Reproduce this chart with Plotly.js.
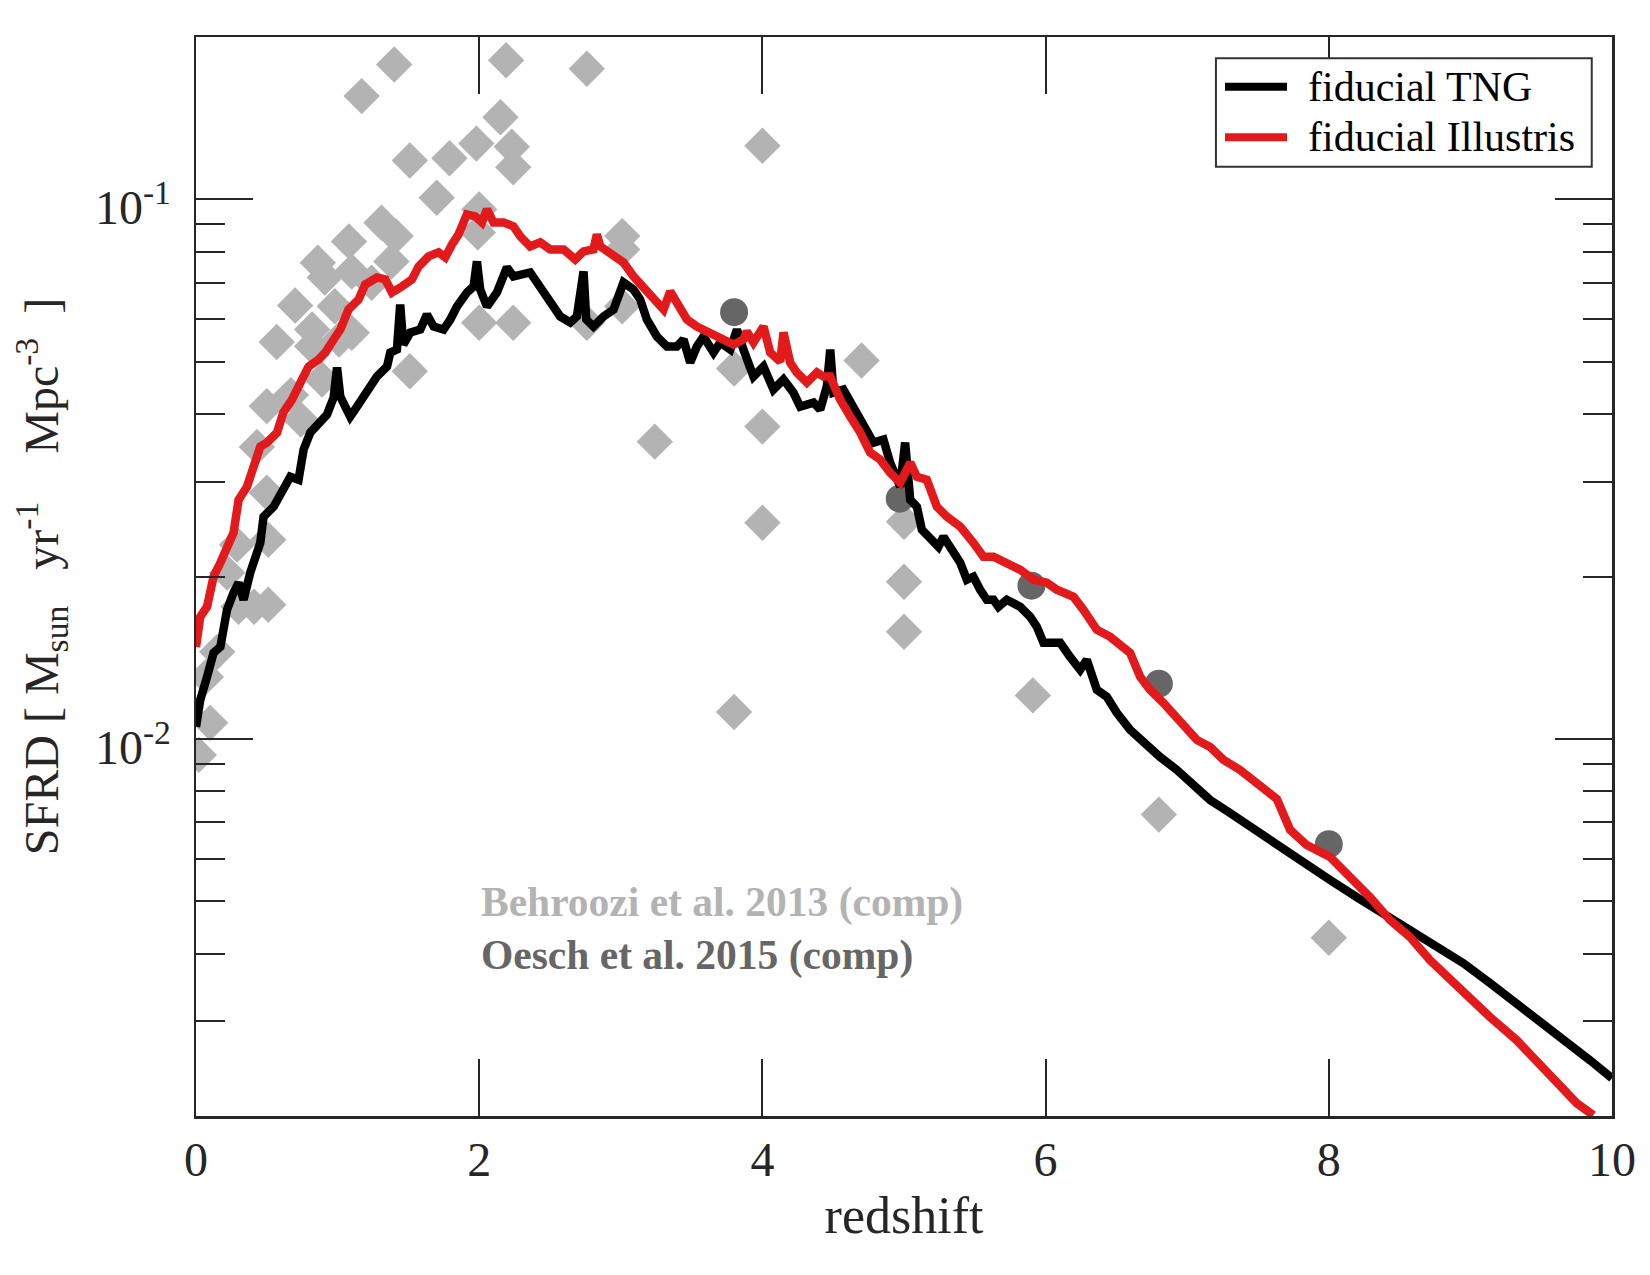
<!DOCTYPE html>
<html>
<head>
<meta charset="utf-8">
<script src="https://cdn.plot.ly/plotly-3.0.1.min.js"></script>
<style>
  html, body { margin: 0; padding: 0; background: #ffffff; }
  #chart { width: 1650px; height: 1275px; }
</style>
</head>
<body>
<div id="chart"></div>
<script>
// Cosmic star formation rate density versus redshift

// fiducial TNG run
const tngZ = [0.00, 0.03, 0.078, 0.124, 0.172, 0.219, 0.265, 0.301, 0.336, 0.383, 0.454, 0.477, 0.548, 0.619, 0.666, 0.724, 0.760, 0.807, 0.878, 0.925, 0.972, 0.996, 1.019, 1.089, 1.137, 1.207, 1.278, 1.349, 1.372, 1.419, 1.442, 1.464, 1.513, 1.584, 1.631, 1.678, 1.748, 1.796, 1.843, 1.913, 1.960, 1.984, 2.007, 2.055, 2.125, 2.196, 2.242, 2.360, 2.431, 2.502, 2.572, 2.643, 2.690, 2.737, 2.756, 2.807, 2.878, 2.949, 3.019, 3.090, 3.137, 3.184, 3.255, 3.326, 3.396, 3.443, 3.490, 3.537, 3.584, 3.655, 3.702, 3.773, 3.820, 3.866, 3.937, 4.008, 4.078, 4.149, 4.219, 4.267, 4.361, 4.408, 4.455, 4.479, 4.502, 4.572, 4.643, 4.714, 4.784, 4.855, 4.902, 4.973, 5.008, 5.044, 5.091, 5.126, 5.185, 5.243, 5.279, 5.326, 5.397, 5.444, 5.490, 5.538, 5.585, 5.632, 5.667, 5.726, 5.820, 5.891, 5.938, 5.985, 6.032, 6.103, 6.173, 6.244, 6.291, 6.362, 6.432, 6.503, 6.597, 6.691, 6.808, 6.927, 7.044, 7.162, 7.303, 7.445, 7.633, 7.820, 8.009, 8.197, 8.385, 8.573, 8.762, 8.950, 9.139, 9.327, 9.515, 9.703, 9.845, 10.0];
const tngSfrd = [0.01053, 0.01181, 0.01303, 0.01444, 0.01481, 0.01735, 0.01866, 0.01948, 0.01811, 0.02033, 0.02310, 0.02581, 0.02694, 0.02897, 0.03062, 0.03023, 0.03438, 0.03696, 0.03857, 0.03991, 0.04292, 0.04880, 0.04311, 0.03957, 0.04130, 0.04385, 0.04696, 0.04900, 0.05202, 0.05269, 0.06385, 0.05383, 0.05666, 0.05739, 0.06119, 0.05813, 0.05739, 0.05990, 0.06331, 0.06721, 0.06895, 0.07674, 0.06807, 0.06331, 0.06721, 0.07480, 0.07197, 0.07321, 0.06895, 0.06523, 0.06067, 0.05914, 0.06067, 0.07352, 0.05990, 0.05813, 0.06067, 0.06250, 0.07014, 0.06807, 0.06523, 0.05990, 0.05570, 0.05337, 0.05337, 0.05499, 0.04985, 0.05337, 0.05570, 0.05202, 0.05429, 0.05269, 0.05739, 0.05269, 0.04696, 0.04900, 0.04441, 0.04636, 0.04385, 0.04130, 0.04201, 0.04077, 0.04499, 0.05269, 0.04385, 0.04441, 0.04130, 0.03792, 0.03542, 0.03588, 0.03251, 0.02934, 0.03542, 0.02776, 0.02694, 0.02442, 0.02340, 0.02271, 0.02370, 0.02271, 0.02121, 0.01973, 0.01998, 0.01890, 0.01811, 0.01811, 0.01758, 0.01811, 0.01758, 0.01684, 0.01614, 0.01507, 0.01507, 0.01507, 0.01419, 0.01343, 0.01401, 0.01233, 0.01197, 0.01118, 0.01039, 0.009830, 0.009260, 0.008760, 0.008251, 0.007704, 0.007288, 0.006866, 0.006411, 0.005888, 0.005474, 0.005090, 0.004755, 0.004420, 0.004113, 0.003840, 0.003526, 0.003238, 0.002972, 0.002729, 0.002537, 0.002350];

// fiducial Illustris run
const illZ = [0.00, 0.03, 0.078, 0.124, 0.172, 0.228, 0.265, 0.301, 0.360, 0.407, 0.454, 0.501, 0.572, 0.616, 0.678, 0.748, 0.795, 0.866, 0.913, 0.972, 1.019, 1.077, 1.148, 1.195, 1.278, 1.337, 1.384, 1.454, 1.525, 1.572, 1.642, 1.713, 1.760, 1.808, 1.854, 1.913, 1.972, 2.019, 2.055, 2.101, 2.172, 2.242, 2.290, 2.360, 2.431, 2.502, 2.596, 2.678, 2.737, 2.807, 2.831, 2.855, 2.949, 3.019, 3.090, 3.160, 3.231, 3.302, 3.349, 3.396, 3.467, 3.537, 3.608, 3.702, 3.796, 3.866, 3.890, 3.937, 4.008, 4.055, 4.126, 4.149, 4.196, 4.243, 4.314, 4.385, 4.431, 4.479, 4.549, 4.620, 4.691, 4.761, 4.832, 4.902, 4.973, 5.044, 5.091, 5.161, 5.232, 5.303, 5.397, 5.490, 5.561, 5.632, 5.726, 5.820, 5.914, 6.009, 6.079, 6.197, 6.267, 6.362, 6.456, 6.550, 6.597, 6.668, 6.738, 6.832, 6.950, 7.068, 7.162, 7.256, 7.373, 7.514, 7.633, 7.727, 7.844, 8.009, 8.150, 8.291, 8.432, 8.573, 8.714, 8.856, 8.997, 9.139, 9.327, 9.468, 9.610, 9.751, 9.868];
const illSfrd = [0.01481, 0.01684, 0.01758, 0.01998, 0.02121, 0.02291, 0.02411, 0.02776, 0.02934, 0.03196, 0.03482, 0.03542, 0.03696, 0.04025, 0.04255, 0.04636, 0.04900, 0.05049, 0.05202, 0.05499, 0.05739, 0.06250, 0.06523, 0.06954, 0.07166, 0.07105, 0.06721, 0.06895, 0.07105, 0.07512, 0.07840, 0.07975, 0.07807, 0.08252, 0.08613, 0.09379, 0.09300, 0.09065, 0.09582, 0.09065, 0.09065, 0.08911, 0.08540, 0.08182, 0.08323, 0.08078, 0.08078, 0.07740, 0.08009, 0.08078, 0.08613, 0.08182, 0.07840, 0.07642, 0.07197, 0.06895, 0.06523, 0.06250, 0.06749, 0.06440, 0.05990, 0.05813, 0.05690, 0.05570, 0.05383, 0.05499, 0.05690, 0.05429, 0.05813, 0.05202, 0.05006, 0.05666, 0.04985, 0.04777, 0.04577, 0.04777, 0.04696, 0.04696, 0.04255, 0.03957, 0.03696, 0.03394, 0.03294, 0.03115, 0.02985, 0.03251, 0.03062, 0.03023, 0.02694, 0.02581, 0.02474, 0.02310, 0.02176, 0.02176, 0.02121, 0.02059, 0.01973, 0.01948, 0.01890, 0.01834, 0.01735, 0.01593, 0.01546, 0.01481, 0.01444, 0.01303, 0.01233, 0.01166, 0.01071, 0.009957, 0.009664, 0.009143, 0.008760, 0.008146, 0.007737, 0.006779, 0.006357, 0.006039, 0.005546, 0.005090, 0.004615, 0.004292, 0.003890, 0.003571, 0.003280, 0.003049, 0.002764, 0.002537, 0.002300, 0.002112, 0.002006];

// Behroozi et al. 2013 compilation
const behrooziZ = [0.02, 0.10, 0.07, 0.15, 0.22, 0.30, 0.41, 0.51, 0.29, 0.51, 0.50, 0.43, 0.50, 0.57, 0.70, 0.67, 0.74, 0.82, 0.82, 0.86, 0.91, 0.89, 0.98, 1.01, 1.08, 1.10, 1.10, 1.24, 1.31, 1.41, 1.38, 1.51, 1.70, 2.00, 1.99, 2.00, 2.24, 1.40, 1.17, 1.51, 1.79, 1.98, 2.15, 2.19, 2.23, 2.24, 2.76, 2.76, 3.01, 3.01, 3.01, 3.24, 3.80, 3.80, 4.00, 4.00, 4.00, 4.70, 5.00, 5.00, 5.00, 5.91, 6.80, 8.00];
const behrooziSfrd = [0.00934, 0.01071, 0.01303, 0.01450, 0.02033, 0.01758, 0.01758, 0.01773, 0.02291, 0.02340, 0.02860, 0.03475, 0.04139, 0.05441, 0.06357, 0.04338, 0.03907, 0.05739, 0.05344, 0.07632, 0.07166, 0.04636, 0.06339, 0.05499, 0.08359, 0.07352, 0.05658, 0.07005, 0.09053, 0.08551, 0.07674, 0.04803, 0.1007, 0.09582, 0.08687, 0.05906, 0.05906, 0.1779, 0.1554, 0.1181, 0.1192, 0.1269, 0.1420, 0.1811, 0.1252, 0.1147, 0.1746, 0.05906, 0.08551, 0.08078, 0.06339, 0.03556, 0.01122, 0.04859, 0.1257, 0.03792, 0.02516, 0.05028, 0.02527, 0.01956, 0.01580, 0.01204, 0.00724, 0.00428];

// Oesch et al. 2015 compilation
const oeschZ = [3.80, 4.97, 5.90, 6.80, 8.00];
const oeschSfrd = [0.0618, 0.02788, 0.01923, 0.01266, 0.00638];

// axis ticks
const yMajorVals = [0.01, 0.1];
const yMajorText = ['10<sup>-2</sup>', '10<sup>-1</sup>'];
const yMinorVals = [0.003, 0.004, 0.005, 0.006, 0.007, 0.008, 0.009,
                    0.02, 0.03, 0.04, 0.05, 0.06, 0.07, 0.08, 0.09];
const xTickVals = [0, 2, 4, 6, 8, 10];

// legend entries
const legendNames = ['fiducial TNG', 'fiducial Illustris'];
const legendColors = ['#000000', '#e31a1c'];

const serif = 'Liberation Serif, Times New Roman, Times, serif';
const axisColor = '#262626';
const lineWidth = 8.5;
const nb = '\u00a0';

const traces = [
  {
    x: behrooziZ, y: behrooziSfrd, type: 'scatter', mode: 'markers',
    name: 'Behroozi et al. 2013 (comp)',
    marker: { symbol: 'diamond', size: 28, color: '#b3b3b3', line: { width: 0 } }
  },
  {
    x: oeschZ, y: oeschSfrd, type: 'scatter', mode: 'markers',
    name: 'Oesch et al. 2015 (comp)',
    marker: { symbol: 'circle', size: 28, color: '#666666', line: { width: 0 } }
  },
  {
    x: tngZ, y: tngSfrd, type: 'scatter', mode: 'lines',
    name: legendNames[0],
    line: { color: legendColors[0], width: lineWidth }
  },
  {
    x: illZ, y: illSfrd, type: 'scatter', mode: 'lines',
    name: legendNames[1],
    line: { color: legendColors[1], width: lineWidth }
  }
];

// legend box drawn in paper coordinates (top-right corner of the axes)
const legBox = { x0: 0.7203, x1: 0.9857, y0: 0.8798, y1: 0.9803 };
const legRowsY = [0.9539, 0.9070];
const legLineX = [0.7267, 0.7705];
const legTextX = 0.7839;

const shapes = [
  {
    type: 'rect', xref: 'paper', yref: 'paper', layer: 'above',
    x0: legBox.x0, x1: legBox.x1, y0: legBox.y0, y1: legBox.y1,
    fillcolor: '#ffffff', line: { color: '#333333', width: 2 }
  }
];
const annotations = [];
legendNames.forEach((name, i) => {
  shapes.push({
    type: 'line', xref: 'paper', yref: 'paper', layer: 'above',
    x0: legLineX[0], x1: legLineX[1], y0: legRowsY[i], y1: legRowsY[i],
    line: { color: legendColors[i], width: 8 }
  });
  annotations.push({
    xref: 'paper', yref: 'paper', x: legTextX, y: legRowsY[i],
    xanchor: 'left', yanchor: 'middle', showarrow: false,
    text: name, font: { family: serif, size: 42, color: '#000000' }
  });
});

annotations.push(
  {
    xref: 'x', yref: 'paper', x: 2.0, y: 0.198, xanchor: 'left', yanchor: 'middle',
    text: '<b>Behroozi et al. 2013 (comp)</b>', showarrow: false,
    font: { family: serif, size: 41.5, color: '#b3b3b3' }
  },
  {
    xref: 'x', yref: 'paper', x: 2.0, y: 0.149, xanchor: 'left', yanchor: 'middle',
    text: '<b>Oesch et al. 2015 (comp)</b>', showarrow: false,
    font: { family: serif, size: 41.5, color: '#666666' }
  }
);

const layout = {
  width: 1650, height: 1275,
  margin: { l: 196, r: 38, t: 37, b: 159, pad: 0 },
  paper_bgcolor: '#ffffff', plot_bgcolor: '#ffffff',
  font: { family: serif, color: '#262626', size: 48 },
  showlegend: false,
  xaxis: {
    range: [0, 10], tickmode: 'array', tickvals: xTickVals,
    ticks: 'inside', ticklen: 57, tickwidth: 2, tickcolor: axisColor,
    showline: true, linecolor: axisColor, linewidth: 2.5, mirror: 'ticks',
    showgrid: false, zeroline: false,
    tickfont: { family: serif, size: 48, color: '#262626' },
    ticklabelstandoff: 0,
    title: { text: 'redshift', font: { family: serif, size: 52, color: '#262626' }, standoff: 12 }
  },
  yaxis: {
    type: 'log', range: [Math.log10(0.002), Math.log10(0.2)],
    tickmode: 'array', tickvals: yMajorVals, ticktext: yMajorText,
    ticks: 'inside', ticklen: 57, tickwidth: 2, tickcolor: axisColor,
    minor: { tickmode: 'array', tickvals: yMinorVals, ticks: 'inside', ticklen: 29, tickwidth: 2, tickcolor: axisColor, showgrid: false },
    showline: true, linecolor: axisColor, linewidth: 2.5, mirror: 'ticks',
    showgrid: false, zeroline: false,
    tickfont: { family: serif, size: 48, color: '#262626' },
    ticklabelstandoff: 13, ticklabelshift: 8,
    title: {
      text: 'SFRD [' + nb + 'M<sub>sun</sub>' + nb + nb + nb + 'yr<sup>-1</sup>' + nb + nb + nb + nb + 'Mpc<sup>-3</sup>' + nb + nb + ']',
      font: { family: serif, size: 48, color: '#262626' }, standoff: 21
    }
  },
  shapes: shapes,
  annotations: annotations
};

Plotly.newPlot('chart', traces, layout, { displayModeBar: false, staticPlot: true });
</script>
</body>
</html>
